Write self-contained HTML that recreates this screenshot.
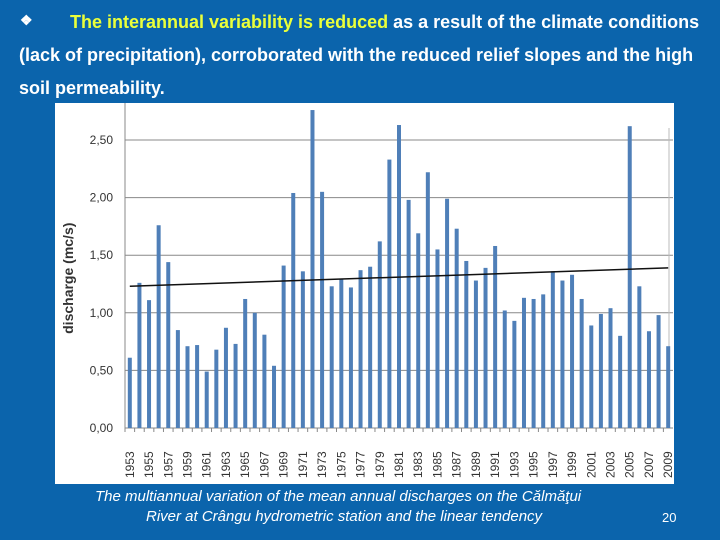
<!DOCTYPE html>
<html><head><meta charset="utf-8"><style>
body{margin:0;width:720px;height:540px;overflow:hidden;background:#0b64ac;font-family:"Liberation Sans",sans-serif;position:relative}
.t{position:absolute;color:#fff;font-weight:bold;font-size:18px;white-space:nowrap}
.y{color:#eaff3a}
.cap{position:absolute;color:#fff;font-style:italic;font-size:15px;text-align:center;white-space:nowrap}
</style></head><body>
<div class="t" style="left:20px;top:12px;font-size:14px">❖</div>
<div class="t" style="left:70px;top:12px"><span class="y">The interannual variability is reduced</span> as a result of the climate conditions</div>
<div class="t" style="left:19px;top:45px">(lack of precipitation), corroborated with the reduced relief slopes and the high</div>
<div class="t" style="left:19px;top:78px">soil permeability.</div>
<svg id="chart" style="position:absolute;left:55px;top:103px" width="619" height="381"></svg>
<div class="cap" style="left:95px;top:488px">The multiannual variation of the mean annual discharges on the Călmăţui</div>
<div class="cap" style="left:146px;top:508px">River at Crângu hydrometric station and the linear tendency</div>
<div class="cap" style="left:662px;top:510px;font-style:normal;font-size:13px">20</div>
<script>
const years=[];for(let y=1953;y<=2009;y++)years.push(y);
const values=[0.61,1.26,1.11,1.76,1.44,0.85,0.71,0.72,0.49,0.68,0.87,0.73,1.12,1.00,0.81,0.54,1.41,2.04,1.36,2.76,2.05,1.23,1.29,1.22,1.37,1.40,1.62,2.33,2.63,1.98,1.69,2.22,1.55,1.99,1.73,1.45,1.28,1.39,1.58,1.02,0.93,1.13,1.12,1.16,1.36,1.28,1.33,1.12,0.89,0.99,1.04,0.80,2.62,1.23,0.84,0.98,0.71];
const yTicks=[0,0.5,1,1.5,2,2.5];
const yTickLabels=["0,00","0,50","1,00","1,50","2,00","2,50"];
const trend=[1.23,1.39];
const svg=document.getElementById('chart');const NS="http://www.w3.org/2000/svg";
function el(t,a,txt){const e=document.createElementNS(NS,t);for(const k in a)e.setAttribute(k,a[k]);if(txt!=null)e.textContent=txt;svg.appendChild(e);return e;}
const X0=70,X1=618,Y0=325,YS=115.2;
const step=(X1-X0)/years.length;
const xs=i=>X0+step*(i+0.5);
const ys=v=>Y0-v*YS;
el('rect',{x:0,y:0,width:619,height:381,fill:'#fff'});
yTicks.forEach((t,i)=>{
 const g=el('line',{x1:X0,x2:X1,y1:ys(t),y2:ys(t),stroke:'#888','stroke-width':1});
 
 
 const l=el('text',{x:X0-12,y:ys(t)+4,'text-anchor':'end','font-size':12,fill:'#333','font-family':'Liberation Sans'},yTickLabels[i]);
 
 
});
el('line',{x1:X0,x2:X0,y1:0,y2:Y0,stroke:'#888'});
el('line',{x1:X1-4,x2:X1-4,y1:25,y2:Y0,stroke:'#bbb'});
values.forEach((v,i)=>{
 const r=el('rect',{x:xs(i)-2,y:ys(v),width:4,height:v*YS,fill:'#4f7fb8'});
 
 
 el('line',{x1:X0+step*i,x2:X0+step*i,y1:Y0,y2:Y0+4,stroke:'#888'});
 if(i%2===0){
  const tx=el('text',{transform:`translate(${xs(i)+4},${Y0+50}) rotate(-90)`,'font-size':12,fill:'#333','font-family':'Liberation Sans'},String(years[i]));
  
  
 }
});
const tl=el('line',{x1:xs(0),y1:ys(trend[0]),x2:xs(values.length-1),y2:ys(trend[1]),stroke:'#111','stroke-width':1.5});


const yt=el('text',{transform:`translate(18,${ys(1.3)}) rotate(-90)`,'text-anchor':'middle','font-size':14,'font-weight':'bold',fill:'#333','font-family':'Liberation Sans'},'discharge (mc/s)');


</script>
</body></html>
